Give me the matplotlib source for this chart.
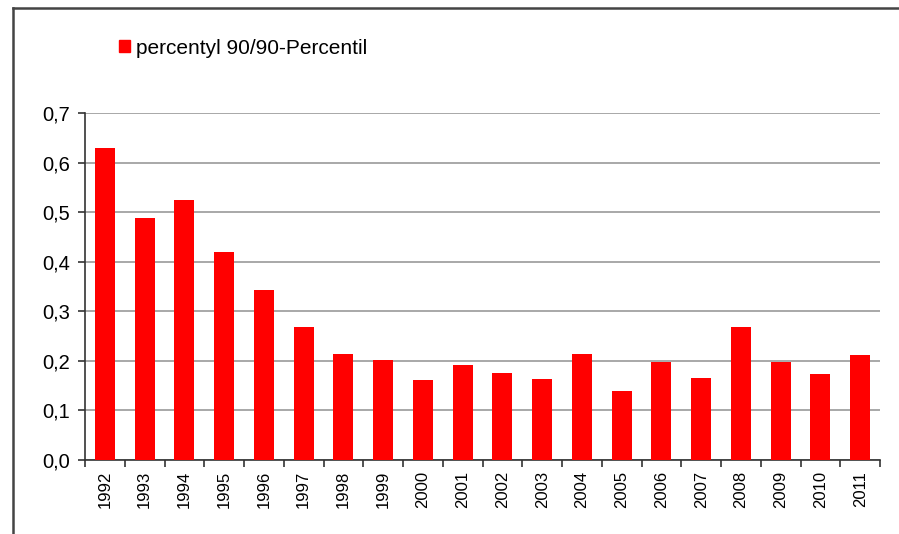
import matplotlib.pyplot as plt
from matplotlib.lines import Line2D
from matplotlib.patches import Patch

years = ["1992", "1993", "1994", "1995", "1996", "1997", "1998", "1999", "2000", "2001",
         "2002", "2003", "2004", "2005", "2006", "2007", "2008", "2009", "2010", "2011"]
values = [0.629, 0.489, 0.525, 0.419, 0.343, 0.268, 0.214, 0.202, 0.161, 0.191,
          0.176, 0.163, 0.214, 0.140, 0.197, 0.166, 0.268, 0.197, 0.174, 0.212]
yticks = [0.0, 0.1, 0.2, 0.3, 0.4, 0.5, 0.6, 0.7]
series_label = "percentyl 90/90-Percentil"

plt.rcParams['font.family'] = ['Liberation Sans', 'DejaVu Sans']

fig = plt.figure(figsize=(8.99, 5.34), dpi=100)
ax = fig.add_axes([85 / 899, 1 - 460 / 534, (880 - 85) / 899, (460 - 113.3) / 534])

x = list(range(len(years)))
ax.bar(x, values, width=0.5, color="#ff0000", zorder=3)

ax.set_xlim(-0.5, len(years) - 0.5)
ax.set_ylim(0, 0.7)
ax.set_yticks(yticks)
ax.set_yticklabels([f"{v:.1f}".replace(".", ",") for v in yticks], fontsize=14.5)
ax.set_xticks(x)
ax.set_xticklabels(years, rotation=90, fontsize=12)
ax.set_xticks([i - 0.5 for i in range(len(years) + 1)], minor=True)
ax.tick_params(axis="x", which="major", length=0, pad=8)
ax.tick_params(axis="x", which="minor", length=5, width=1.2, color="#333333", direction="out")
ax.tick_params(axis="y", length=5, width=1.2, color="#333333", pad=6)

ax.yaxis.grid(True, color="#999999", linewidth=1.2, zorder=0)
for s in ["top", "right"]:
    ax.spines[s].set_visible(False)
for s in ["left", "bottom"]:
    ax.spines[s].set_color("#333333")
    ax.spines[s].set_linewidth(1.2)

# outer frame (left and top edges visible)
fig.add_artist(Line2D([13 / 899, 13 / 899], [0, 1 - 8 / 534], color="#444444", linewidth=1.8))
fig.add_artist(Line2D([13 / 899, 1], [1 - 8 / 534, 1 - 8 / 534], color="#444444", linewidth=1.8))

fig.legend(handles=[Patch(color="#ff0000", label=series_label)],
           loc="center left", bbox_to_anchor=(119 / 899, 1 - 48 / 534),
           frameon=False, fontsize=15, handlelength=0.55, handleheight=0.55,
           handletextpad=0.25, borderpad=0, borderaxespad=0)

fig.savefig("out.png", dpi=100)
